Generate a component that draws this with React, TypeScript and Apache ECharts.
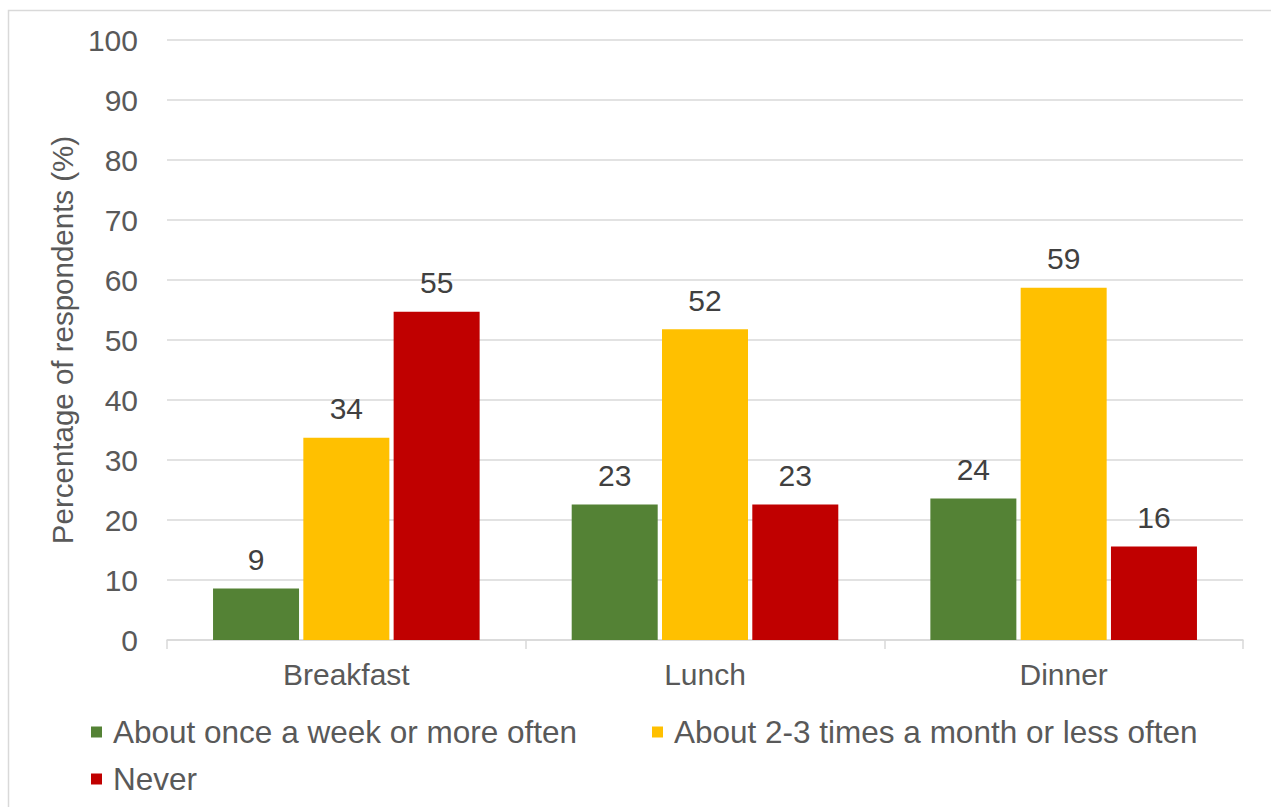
import React, { useEffect, useRef } from "react";
import * as echarts from "echarts";

const categories = ["Breakfast", "Lunch", "Dinner"];
const seriesNames = [
  "About once a week or more often",
  "About 2-3 times a month or less often",
  "Never",
];
const weeklyValues = [8.6, 22.6, 23.6];
const monthlyValues = [33.7, 51.8, 58.7];
const neverValues = [54.7, 22.6, 15.6];
const colors = ["#548235", "#FFC000", "#C00000"];
const yTicks = { min: 0, max: 100, interval: 10 };

const FONT = "'Liberation Sans', Arial, sans-serif";

export default function App() {
  const ref = useRef<HTMLDivElement>(null);
  useEffect(() => {
    if (!ref.current) return;
    const chart = echarts.init(ref.current, undefined, { renderer: "svg" });
    const label = {
      show: true,
      position: "top",
      distance: 14,
      fontSize: 30,
      fontFamily: FONT,
      color: "#404040",
      formatter: (p: any) => String(Math.round(p.value)),
    };
    const values = [weeklyValues, monthlyValues, neverValues];
    const legendBase = {
      itemWidth: 11,
      itemHeight: 11,
      icon: "rect",
      padding: 0,
      textStyle: { fontSize: 31.5, fontFamily: FONT, color: "#595959", padding: [0, 0, 0, 6] },
    };
    chart.setOption({
      animation: false,
      textStyle: { fontFamily: FONT },
      graphic: [
        {
          type: "rect",
          shape: { x: 8.5, y: 10.5, width: 1400, height: 900 },
          style: { fill: "none", stroke: "#d9d9d9", lineWidth: 1.5 },
          silent: true,
        },
      ],
      grid: { left: 167, right: 28, top: 40, bottom: 167 },
      legend: [
        { ...legendBase, data: [seriesNames[0]], left: 91, top: 716 },
        { ...legendBase, data: [seriesNames[1]], left: 652, top: 716 },
        { ...legendBase, data: [seriesNames[2]], left: 91, top: 763 },
      ],
      xAxis: {
        type: "category",
        data: categories,
        axisLine: { lineStyle: { color: "#d9d9d9", width: 1.5 } },
        axisTick: { show: true, length: 9, lineStyle: { color: "#d9d9d9", width: 1.5 } },
        axisLabel: { fontSize: 30, color: "#595959", fontFamily: FONT, margin: 19 },
      },
      yAxis: {
        type: "value",
        min: yTicks.min,
        max: yTicks.max,
        interval: yTicks.interval,
        name: "Percentage of respondents (%)",
        nameLocation: "middle",
        nameGap: 89,
        nameTextStyle: { fontSize: 29.5, color: "#595959", fontFamily: FONT },
        axisLine: { show: false },
        axisTick: { show: false },
        axisLabel: { fontSize: 30, color: "#595959", fontFamily: FONT, margin: 29 },
        splitLine: { lineStyle: { color: "#d9d9d9", width: 1.5 } },
      },
      series: seriesNames.map((name, i) => ({
        name,
        type: "bar",
        data: values[i],
        barWidth: 86,
        barGap: "5%",
        itemStyle: { color: colors[i] },
        label,
      })),
    });
    return () => chart.dispose();
  }, []);
  return (
    <div
      ref={ref}
      style={{ position: "fixed", left: 0, top: 0, width: 1271, height: 807, background: "#fff" }}
    />
  );
}
